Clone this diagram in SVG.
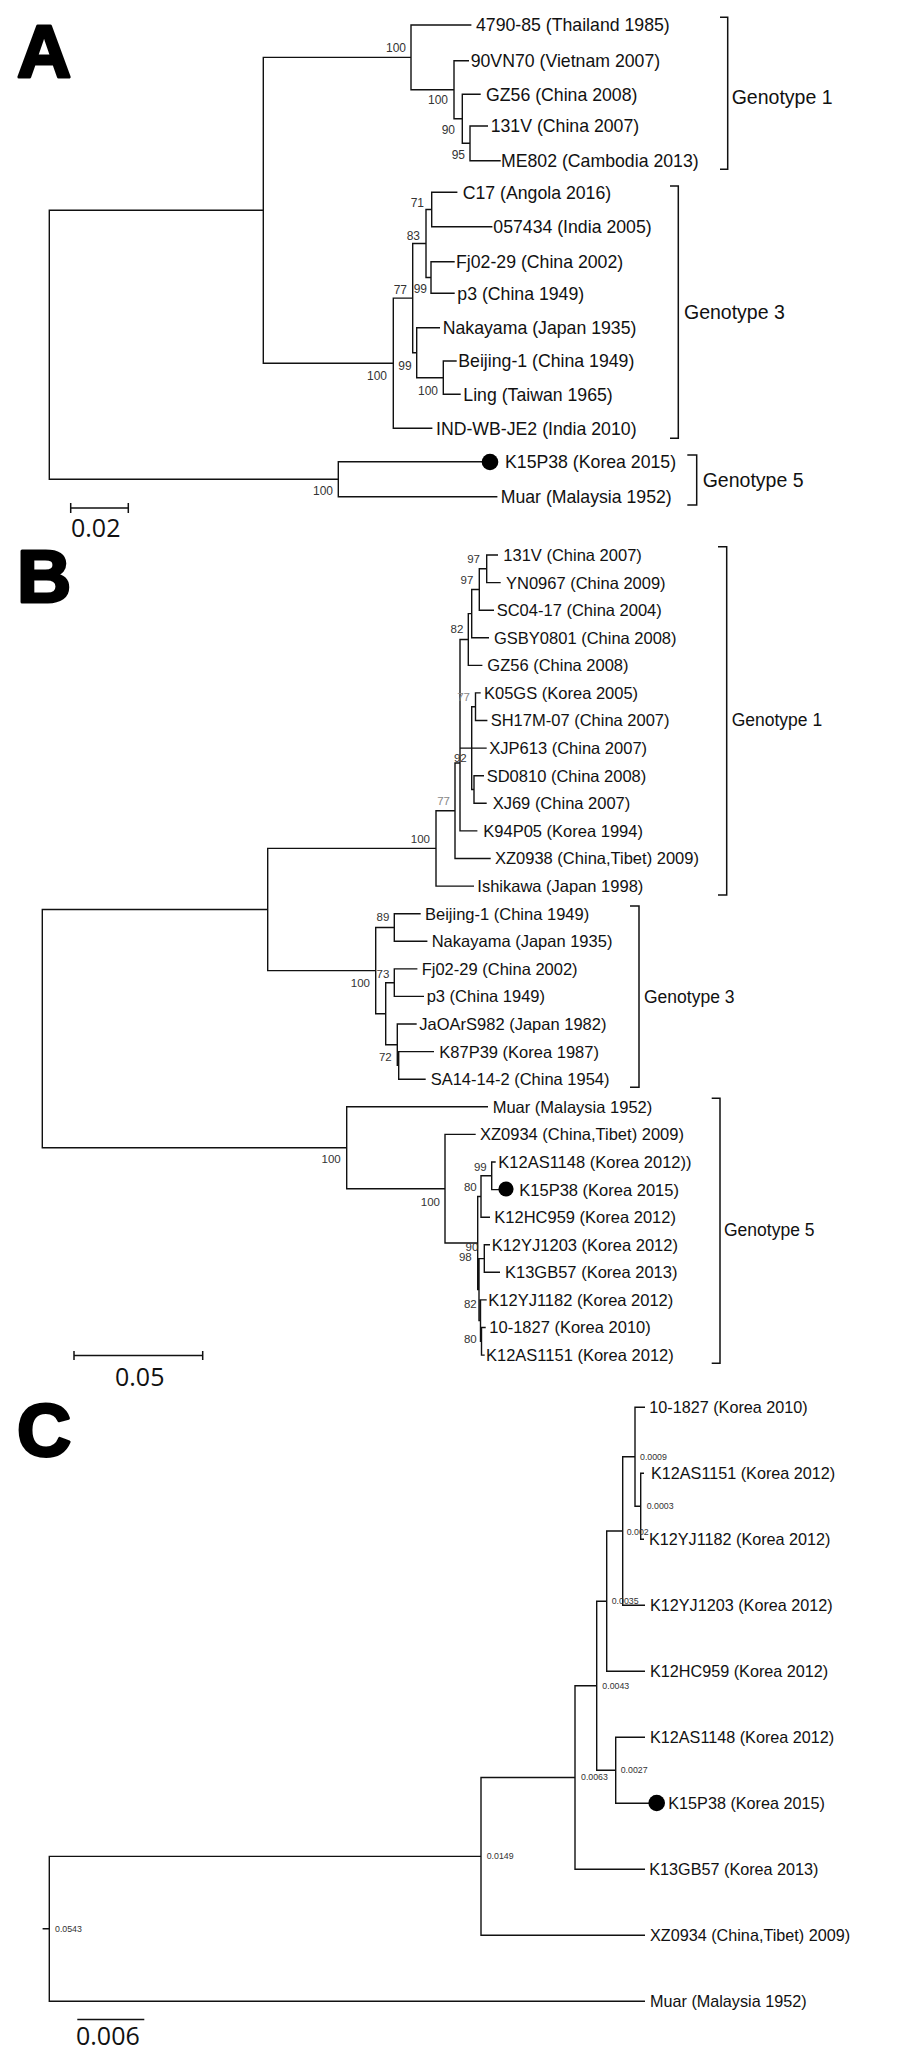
<svg xmlns="http://www.w3.org/2000/svg" width="900" height="2057" viewBox="0 0 900 2057">
<style>
.bg{fill:#fff}
.br{stroke:#111;stroke-width:1.4;fill:none;stroke-linecap:square}
.bk{stroke:#111;stroke-width:1.5;fill:none}
.panel{font-family:"Liberation Sans",Arial,sans-serif;font-weight:bold;font-size:75px;fill:#000;stroke:#000;stroke-width:3;stroke-linejoin:round}
.ta{font-family:"Liberation Sans",Arial,sans-serif;font-size:17.7px;fill:#111}
.tb{font-family:"Liberation Sans",Arial,sans-serif;font-size:16.5px;fill:#111}
.tc{font-family:"Liberation Sans",Arial,sans-serif;font-size:16.2px;fill:#111}
.ga{font-family:"Liberation Sans",Arial,sans-serif;font-size:19.5px;fill:#111}
.gb{font-family:"Liberation Sans",Arial,sans-serif;font-size:17.5px;fill:#111}
.bsa{font-family:"Liberation Sans",Arial,sans-serif;font-size:12px;fill:#333;text-anchor:end}
.bsb{font-family:"Liberation Sans",Arial,sans-serif;font-size:11.5px;fill:#333;text-anchor:end}
.fade{fill:#888}
.bsc{font-family:"Liberation Sans",Arial,sans-serif;font-size:8.8px;fill:#333}
.sc{font-family:"Open Sans","Liberation Sans",sans-serif;font-size:25px;fill:#111}
.dot{fill:#000}
</style>
<rect class="bg" x="0" y="0" width="900" height="2057"/>

<!-- Panel letters -->
<text class="panel" x="17" y="77">A</text>
<text class="panel" x="17" y="602">B</text>
<text class="panel" x="17" y="1456">C</text>

<g id="connectors">
<!-- Panel A -->
<path class="br" d="M49.3,210.3 V479.2 M49.3,210.3 H263.3 M49.3,479.2 H338.3
M263.3,57.4 V363.2 M263.3,57.4 H411 M263.3,363.2 H393.3
M411,25 V89.8 M411,25 H470.7 M411,89.8 H454
M454,60.7 V118.8 M454,60.7 H468.3 M454,118.8 H462.3
M462.3,94.3 V143.3 M462.3,94.3 H480 M462.3,143.3 H470
M470,126 V160.7 M470,126 H487.3 M470,160.7 H500
M393.3,298.1 V428.3 M393.3,298.1 H412.7 M393.3,428.3 H431.7
M412.7,243.5 V352.7 M412.7,243.5 H426 M412.7,352.7 H416.7
M426,209.5 V277.5 M426,209.5 H431.7 M426,277.5 H431
M431.7,192.3 V226.7 M431.7,192.3 H456.7 M431.7,226.7 H491.7
M431,261.7 V293.3 M431,261.7 H454 M431,293.3 H454
M416.7,327.7 V377.7 M416.7,327.7 H439.3 M416.7,377.7 H443.3
M443.3,361 V394.3 M443.3,361 H456 M443.3,394.3 H460
M338.3,461.7 V496.7 M338.3,461.7 H482 M338.3,496.7 H496.7"/>
<!-- Panel B -->
<path class="br" d="M42.3,909.5 V1147.8 M42.3,909.5 H267.7 M42.3,1147.8 H346.7
M267.7,848.4 V970.6 M267.7,848.4 H436 M267.7,970.6 H375.7
M436,810.7 V886.1 M436,810.7 H455 M436,886.1 H473.3
M455,763 V858.5 M455,763 H460 M455,858.5 H490
M460,639.5 V830.9 M460,639.5 H468.3 M460,748.1 H486 M460,830.9 H476.7
M468.3,613.6 V665.4 M468.3,613.6 H471.7 M468.3,665.4 H481.7
M471.7,589.5 V637.8 M471.7,589.5 H479.3 M471.7,637.8 H488.3
M479.3,568.8 V610.2 M479.3,568.8 H486.7 M479.3,610.2 H493.3
M486.7,555 V582.6 M486.7,555 H497.3 M486.7,582.6 H500
M471.7,706.7 V789.5 M471.7,706.7 H475.5 M471.7,789.5 H474
M475.5,692.9 V720.5 M475.5,692.9 H480 M475.5,720.5 H486.7
M474,775.7 V803.3 M474,775.7 H483.3 M474,803.3 H486
M375.7,927.5 V1013.7 M375.7,927.5 H394.3 M375.7,1013.7 H385.7
M394.3,913.7 V941.3 M394.3,913.7 H420 M394.3,941.3 H426.7
M385.7,982.7 V1044.7 M385.7,982.7 H394.3 M385.7,1044.7 H397.3
M394.3,968.9 V996.4 M394.3,968.9 H416.7 M394.3,996.4 H423.3
M397.3,1024 V1065.4 M397.3,1024 H416 M397.3,1065.4 H398.7
M398.7,1051.6 V1079.2 M398.7,1051.6 H433.3 M398.7,1079.2 H425
M346.7,1106.8 V1188.7 M346.7,1106.8 H487.3 M346.7,1188.7 H445
M445,1134.4 V1243 M445,1134.4 H475 M445,1243 H477.7
M477.7,1196.5 V1289.6 M477.7,1196.5 H481 M477.7,1289.6 H479
M481,1175.8 V1217.2 M481,1175.8 H491.7 M481,1217.2 H489.3
M491.7,1162 V1189.6 M491.7,1162 H495 M491.7,1189.6 H499
M479,1258.6 V1320.6 M479,1258.6 H484.3 M479,1320.6 H480.5
M484.3,1244.8 V1272.3 M484.3,1244.8 H489.3 M484.3,1272.3 H499.3
M480.5,1299.9 V1341.3 M480.5,1299.9 H486 M480.5,1341.3 H481.5
M481.5,1327.5 V1355.1 M481.5,1327.5 H485 M481.5,1355.1 H484"/>
<!-- Panel C -->
<path class="br" d="M43.3,1928.8 H49.3 M49.3,1856.4 V2001.3 M49.3,1856.4 H481 M49.3,2001.3 H644.3
M481,1777.5 V1935.3 M481,1777.5 H575 M481,1935.3 H644.3
M575,1685.7 V1869.3 M575,1685.7 H596.7 M575,1869.3 H644.3
M596.7,1601.2 V1770.3 M596.7,1601.2 H606.7 M596.7,1770.3 H615.7
M615.7,1737.3 V1803.3 M615.7,1737.3 H644.3 M615.7,1803.3 H649
M606.7,1531 V1671.3 M606.7,1531 H622.7 M606.7,1671.3 H644.3
M622.7,1456.8 V1605.3 M622.7,1456.8 H635 M622.7,1605.3 H644.3
M635,1407.3 V1506.3 M635,1407.3 H644.3 M635,1506.3 H640.7
M640.7,1473.3 V1539.3 M640.7,1473.3 H643.3 M640.7,1539.3 H643.3"/>
</g>

<!-- Panel A leaves -->
<g id="a-4790-85"><text class="ta" x="476" y="31.3">4790-85 (Thailand 1985)</text></g>
<g id="a-90VN70"><text class="ta" x="470.7" y="67">90VN70 (Vietnam 2007)</text></g>
<g id="a-GZ56"><text class="ta" x="486" y="100.6">GZ56 (China 2008)</text></g>
<g id="a-131V"><text class="ta" x="490.7" y="132.3">131V (China 2007)</text></g>
<g id="a-ME802"><text class="ta" x="501" y="167">ME802 (Cambodia 2013)</text></g>
<g id="a-C17"><text class="ta" x="462.7" y="198.6">C17 (Angola 2016)</text></g>
<g id="a-057434"><text class="ta" x="493.3" y="233">057434 (India 2005)</text></g>
<g id="a-Fj02-29"><text class="ta" x="456" y="268">Fj02-29 (China 2002)</text></g>
<g id="a-p3"><text class="ta" x="457.3" y="299.6">p3 (China 1949)</text></g>
<g id="a-Nakayama"><text class="ta" x="442.7" y="334">Nakayama (Japan 1935)</text></g>
<g id="a-Beijing-1"><text class="ta" x="458.3" y="367.3">Beijing-1 (China 1949)</text></g>
<g id="a-Ling"><text class="ta" x="463.3" y="400.6">Ling (Taiwan 1965)</text></g>
<g id="a-IND-WB-JE2"><text class="ta" x="436" y="434.6">IND-WB-JE2 (India 2010)</text></g>
<g id="a-K15P38"><circle class="dot" cx="490" cy="462" r="8.3"/><text class="ta" x="505" y="468">K15P38 (Korea 2015)</text></g>
<g id="a-Muar"><text class="ta" x="500.7" y="503">Muar (Malaysia 1952)</text></g>

<g id="a-bootstrap">
<text class="bsa" x="406" y="52">100</text>
<text class="bsa" x="448" y="104.3">100</text>
<text class="bsa" x="455" y="133.6">90</text>
<text class="bsa" x="465" y="159.3">95</text>
<text class="bsa" x="424" y="207">71</text>
<text class="bsa" x="420" y="240.3">83</text>
<text class="bsa" x="407" y="293.6">77</text>
<text class="bsa" x="427" y="293.3">99</text>
<text class="bsa" x="411.7" y="370.3">99</text>
<text class="bsa" x="387" y="380.3">100</text>
<text class="bsa" x="438" y="395">100</text>
<text class="bsa" x="333" y="495">100</text>
</g>

<g id="a-genotype1"><path class="bk" d="M720,17.3 H727.7 V169.3 H720"/><text class="ga" x="731.7" y="103.7">Genotype 1</text></g>
<g id="a-genotype3"><path class="bk" d="M670,186 H678.3 V438.3 H670"/><text class="ga" x="684" y="318.7">Genotype 3</text></g>
<g id="a-genotype5"><path class="bk" d="M687.3,455 H696.7 V505 H687.3"/><text class="ga" x="702.7" y="487">Genotype 5</text></g>

<g id="a-scale"><path class="bk" d="M70.7,508 H128.3 M70.7,503 V513 M128.3,503 V513"/><text class="sc" x="71" y="537">0.02</text></g>

<!-- Panel B leaves -->
<g id="b-131V"><text class="tb" x="503.3" y="560.9">131V (China 2007)</text></g>
<g id="b-YN0967"><text class="tb" x="506" y="588.5">YN0967 (China 2009)</text></g>
<g id="b-SC04-17"><text class="tb" x="496.7" y="616.1">SC04-17 (China 2004)</text></g>
<g id="b-GSBY0801"><text class="tb" x="494" y="643.7">GSBY0801 (China 2008)</text></g>
<g id="b-GZ56"><text class="tb" x="487.3" y="671.3">GZ56 (China 2008)</text></g>
<g id="b-K05GS"><text class="tb" x="484" y="698.8">K05GS (Korea 2005)</text></g>
<g id="b-SH17M-07"><text class="tb" x="490.7" y="726.4">SH17M-07 (China 2007)</text></g>
<g id="b-XJP613"><text class="tb" x="489.3" y="754">XJP613 (China 2007)</text></g>
<g id="b-SD0810"><text class="tb" x="486.7" y="781.6">SD0810 (China 2008)</text></g>
<g id="b-XJ69"><text class="tb" x="492.7" y="809.2">XJ69 (China 2007)</text></g>
<g id="b-K94P05"><text class="tb" x="483.3" y="836.8">K94P05 (Korea 1994)</text></g>
<g id="b-XZ0938"><text class="tb" x="495" y="864.4">XZ0938 (China,Tibet) 2009)</text></g>
<g id="b-Ishikawa"><text class="tb" x="477.3" y="892">Ishikawa (Japan 1998)</text></g>
<g id="b-Beijing-1"><text class="tb" x="425" y="919.6">Beijing-1 (China 1949)</text></g>
<g id="b-Nakayama"><text class="tb" x="431.7" y="947.2">Nakayama (Japan 1935)</text></g>
<g id="b-Fj02-29"><text class="tb" x="421.7" y="974.8">Fj02-29 (China 2002)</text></g>
<g id="b-p3"><text class="tb" x="426.7" y="1002.3">p3 (China 1949)</text></g>
<g id="b-JaOArS982"><text class="tb" x="419.3" y="1029.9">JaOArS982 (Japan 1982)</text></g>
<g id="b-K87P39"><text class="tb" x="439.3" y="1057.5">K87P39 (Korea 1987)</text></g>
<g id="b-SA14-14-2"><text class="tb" x="430.7" y="1085.1">SA14-14-2 (China 1954)</text></g>
<g id="b-Muar"><text class="tb" x="492.7" y="1112.7">Muar (Malaysia 1952)</text></g>
<g id="b-XZ0934"><text class="tb" x="480" y="1140.3">XZ0934 (China,Tibet) 2009)</text></g>
<g id="b-K12AS1148"><text class="tb" x="498.3" y="1167.9">K12AS1148 (Korea 2012))</text></g>
<g id="b-K15P38"><circle class="dot" cx="506" cy="1189" r="7.6"/><text class="tb" x="519.3" y="1195.5">K15P38 (Korea 2015)</text></g>
<g id="b-K12HC959"><text class="tb" x="494.3" y="1223.1">K12HC959 (Korea 2012)</text></g>
<g id="b-K12YJ1203"><text class="tb" x="491.7" y="1250.7">K12YJ1203 (Korea 2012)</text></g>
<g id="b-K13GB57"><text class="tb" x="505" y="1278.2">K13GB57 (Korea 2013)</text></g>
<g id="b-K12YJ1182"><text class="tb" x="488.3" y="1305.8">K12YJ1182 (Korea 2012)</text></g>
<g id="b-10-1827"><text class="tb" x="489.3" y="1333.4">10-1827 (Korea 2010)</text></g>
<g id="b-K12AS1151"><text class="tb" x="486" y="1361">K12AS1151 (Korea 2012)</text></g>

<g id="b-bootstrap">
<text class="bsb" x="480" y="563.4">97</text>
<text class="bsb" x="473.3" y="584.1">97</text>
<text class="bsb" x="463.3" y="633.4">82</text>
<text class="bsb fade" x="470" y="700.8">77</text>
<text class="bsb" x="466.7" y="762.4">92</text>
<text class="bsb fade" x="450" y="805.1">77</text>
<text class="bsb" x="430" y="843.4">100</text>
<text class="bsb" x="389.3" y="920.8">89</text>
<text class="bsb" x="389.3" y="977.7">73</text>
<text class="bsb" x="370" y="986.9">100</text>
<text class="bsb" x="391.7" y="1060.8">72</text>
<text class="bsb" x="340.7" y="1163.1">100</text>
<text class="bsb" x="486.7" y="1170.8">99</text>
<text class="bsb" x="476.7" y="1191.4">80</text>
<text class="bsb" x="440" y="1205.6">100</text>
<text class="bsb" x="478.3" y="1250.8">90</text>
<text class="bsb" x="471.7" y="1260.8">98</text>
<text class="bsb" x="476.7" y="1308.1">82</text>
<text class="bsb" x="476.7" y="1343.4">80</text>
</g>

<g id="b-genotype1"><path class="bk" d="M718,546.7 H726.7 V895 H718"/><text class="gb" x="731.7" y="726.3">Genotype 1</text></g>
<g id="b-genotype3"><path class="bk" d="M630,906 H639 V1087.3 H630"/><text class="gb" x="644" y="1003">Genotype 3</text></g>
<g id="b-genotype5"><path class="bk" d="M711.7,1098.3 H720 V1363.3 H711.7"/><text class="gb" x="724" y="1235.6">Genotype 5</text></g>

<g id="b-scale"><path class="bk" d="M74,1355.5 H202.7 M74,1351 V1360 M202.7,1351 V1360"/><text class="sc" x="115" y="1386">0.05</text></g>

<!-- Panel C leaves -->
<g id="c-10-1827"><text class="tc" x="649.3" y="1413.1">10-1827 (Korea 2010)</text></g>
<g id="c-K12AS1151"><text class="tc" x="651" y="1479.1">K12AS1151 (Korea 2012)</text></g>
<g id="c-K12YJ1182"><text class="tc" x="649" y="1545.1">K12YJ1182 (Korea 2012)</text></g>
<g id="c-K12YJ1203"><text class="tc" x="650" y="1611.1">K12YJ1203 (Korea 2012)</text></g>
<g id="c-K12HC959"><text class="tc" x="650" y="1677.1">K12HC959 (Korea 2012)</text></g>
<g id="c-K12AS1148"><text class="tc" x="650" y="1743.1">K12AS1148 (Korea 2012)</text></g>
<g id="c-K15P38"><circle class="dot" cx="656.7" cy="1803" r="8.3"/><text class="tc" x="668.3" y="1809.1">K15P38 (Korea 2015)</text></g>
<g id="c-K13GB57"><text class="tc" x="649.3" y="1875.1">K13GB57 (Korea 2013)</text></g>
<g id="c-XZ0934"><text class="tc" x="650" y="1941.1">XZ0934 (China,Tibet) 2009)</text></g>
<g id="c-Muar"><text class="tc" x="650" y="2007.1">Muar (Malaysia 1952)</text></g>

<g id="c-lengths">
<text class="bsc" x="55" y="1931.6">0.0543</text>
<text class="bsc" x="486.7" y="1859.1">0.0149</text>
<text class="bsc" x="581" y="1780.4">0.0063</text>
<text class="bsc" x="602.3" y="1688.8">0.0043</text>
<text class="bsc" x="620.7" y="1773.1">0.0027</text>
<text class="bsc" x="611.7" y="1603.8">0.0035</text>
<text class="bsc" x="626.7" y="1534.8">0.002</text>
<text class="bsc" x="640" y="1460.4">0.0009</text>
<text class="bsc" x="646.7" y="1508.8">0.0003</text>
</g>

<g id="c-scale"><path class="bk" d="M77.3,2019.5 H144.3"/><text class="sc" x="76" y="2045">0.006</text></g>
</svg>
